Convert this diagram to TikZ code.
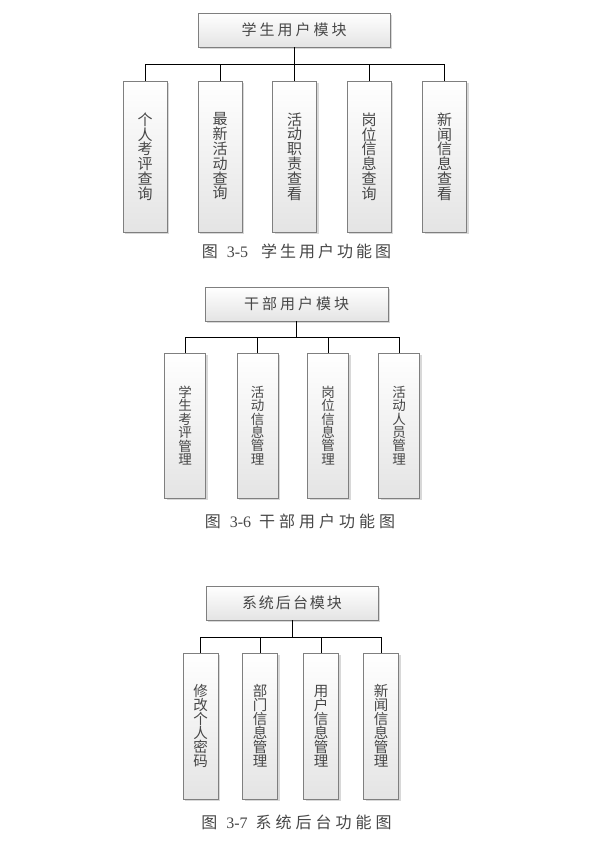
\documentclass[tikz,border=0pt]{standalone}
\usepackage{fontspec}
\setmainfont{Liberation Serif}
\newfontfamily\cjk{Noto Sans CJK SC}
\usetikzlibrary{shadows}
\makeatletter
\def\trk#1#2{\@tfor\x:=#2\do{\x\kern#1}\unkern}
\makeatother
\definecolor{boxline}{HTML}{7F7F7F}
\definecolor{boxfill}{HTML}{E4E4E4}
\definecolor{txt}{HTML}{474747}
\tikzset{
  boxbase/.style={draw=boxline, line width=0.8pt, top color=white, bottom color=boxfill,
    drop shadow={shadow xshift=2pt, shadow yshift=-2pt, fill=black!30},
    text=txt, inner sep=0pt, align=center},
  topbox/.style={boxbase, minimum height=34pt, font=\cjk\fontsize{15}{15}\selectfont},
  kidA/.style={boxbase, minimum width=44pt, minimum height=151pt, font=\cjk\fontsize{15}{14.8}\selectfont},
  kidB/.style={boxbase, minimum width=41pt, minimum height=145pt, font=\cjk\fontsize{13.5}{13.4}\selectfont},
  kidC/.style={boxbase, minimum width=35pt, minimum height=146pt, font=\cjk\fontsize{14.5}{14}\selectfont},
  link/.style={draw=black, line width=0.8pt},
  capt/.style={text=txt, inner sep=0pt, font=\fontsize{16}{16}\selectfont}
}
\begin{document}
\begin{tikzpicture}[x=1pt,y=-1pt]
\useasboundingbox[fill=white] (0,0) rectangle (596,857);
% ---------- diagram 1
\node[topbox, minimum width=192pt] (t1) at (294,30) {\trk{3pt}{学生用户模块}};
\coordinate (bus1) at (294,64);
\node[kidA] (a1) at (145,156.5) {个\\人\\考\\评\\查\\询};
\node[kidA] (a2) at (220,156.5) {最\\新\\活\\动\\查\\询};
\node[kidA] (a3) at (294.5,156.5) {活\\动\\职\\责\\查\\看};
\node[kidA] (a4) at (369,156.5) {岗\\位\\信\\息\\查\\询};
\node[kidA] (a5) at (444.5,156.5) {新\\闻\\信\\息\\查\\看};
\draw[link] (t1.south) -- (bus1);
\foreach \k in {a1,a2,a3,a4,a5} \draw[link] (\k.north) |- (bus1);
\node[capt] (cap1) at (296.5,251) {{\cjk 图}\kern9pt 3-5\kern13pt{\cjk\trk{3pt}{学生用户功能图}}};
% ---------- diagram 2
\node[topbox, minimum width=183pt] (t2) at (296.5,304) {\trk{3pt}{干部用户模块}};
\coordinate (bus2) at (296.5,337);
\node[kidB] (b1) at (185,425.5) {学\\生\\考\\评\\管\\理};
\node[kidB] (b2) at (257.5,425.5) {活\\动\\信\\息\\管\\理};
\node[kidB] (b3) at (328,425.5) {岗\\位\\信\\息\\管\\理};
\node[kidB] (b4) at (399,425.5) {活\\动\\人\\员\\管\\理};
\draw[link] (t2.south) -- (bus2);
\foreach \k in {b1,b2,b3,b4} \draw[link] (\k.north) |- (bus2);
\node[capt] (cap2) at (300,521) {{\cjk 图}\kern9pt 3-6\kern8pt{\cjk\trk{4pt}{干部用户功能图}}};
% ---------- diagram 3
\node[topbox, minimum width=172pt] (t3) at (292,603) {\trk{2pt}{系统后台模块}};
\coordinate (bus3) at (292,637);
\node[kidC] (c1) at (200.5,726) {修\\改\\个\\人\\密\\码};
\node[kidC] (c2) at (260,726) {部\\门\\信\\息\\管\\理};
\node[kidC] (c3) at (321,726) {用\\户\\信\\息\\管\\理};
\node[kidC] (c4) at (381,726) {新\\闻\\信\\息\\管\\理};
\draw[link] (t3.south) -- (bus3);
\foreach \k in {c1,c2,c3,c4} \draw[link] (\k.north) |- (bus3);
\node[capt] (cap3) at (296.5,822) {{\cjk 图}\kern9pt 3-7\kern8pt{\cjk\trk{4pt}{系统后台功能图}}};
\end{tikzpicture}
\end{document}
